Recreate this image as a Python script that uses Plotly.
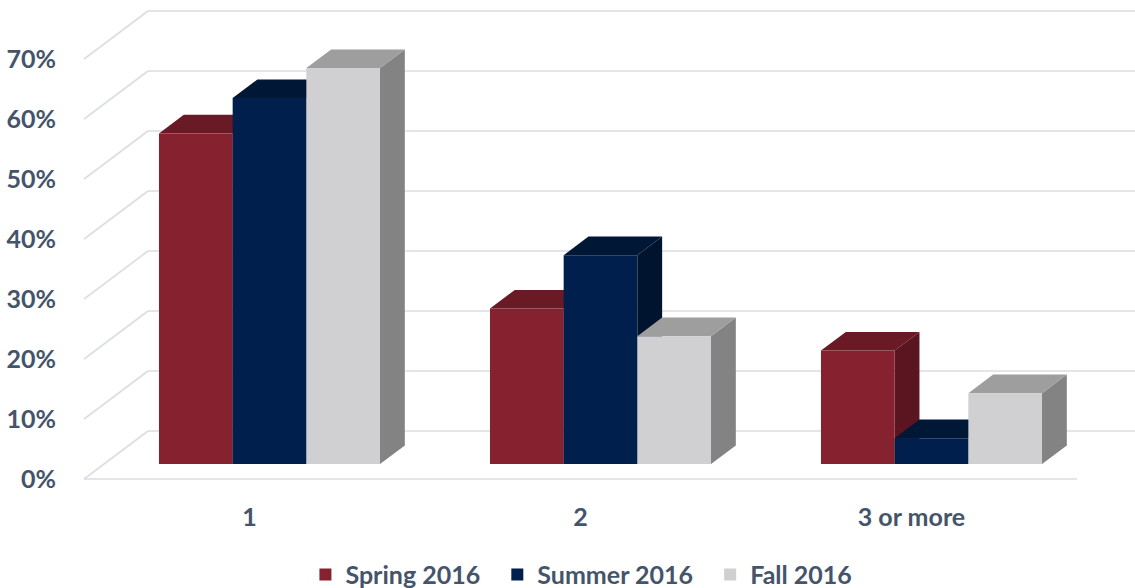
import plotly.graph_objects as go

categories = ["1", "2", "3 or more"]
series_names = ["Spring 2016", "Summer 2016", "Fall 2016"]
spring = [55.1, 25.9, 18.9]
summer = [61.0, 34.8, 4.3]
fall = [66.0, 21.3, 11.8]
y_ticks = [0, 10, 20, 30, 40, 50, 60, 70]

# front / top / side face colours per series
front_colors = ["#86222F", "#001F4C", "#D0CFD1"]
top_colors = ["#691A25", "#001736", "#9E9E9E"]
side_colors = ["#5A1520", "#00142F", "#838383"]

TEXT = "#44546A"
GRID = "#DADDE3"
FONT = "Lato"

# oblique projection: one full floor depth moves x by DX (category units) and y by DV (percent)
DX = 64 / 331
DV = 8.0
D_FRONT = 0.3125
D_BACK = 0.70
W = 0.2226  # bar width in category units


def proj(x, v, d):
    return x + DX * d, v + DV * d


def face(points):
    xs, ys = [], []
    for x, v, d in points + points[:1]:
        px, py = proj(x, v, d)
        xs.append(px)
        ys.append(py)
    return xs, ys


fig = go.Figure()

# walls / gridlines
gx, gy = [], []
for v in y_ticks:
    for a, b in [((-0.5, v, 0), (-0.5, v, 1)), ((-0.5, v, 1), (2.5, v, 1))]:
        x0, y0 = proj(*a)
        x1, y1 = proj(*b)
        gx += [x0, x1, None]
        gy += [y0, y1, None]
x0, y0 = proj(-0.5, 0, 0)
x1, y1 = proj(2.5, 0, 0)
gx += [x0, x1, None]
gy += [y0, y1, None]
fig.add_trace(go.Scatter(x=gx, y=gy, mode="lines", line=dict(color=GRID, width=1.6),
                         hoverinfo="skip", showlegend=False, zorder=0))

all_values = [spring, summer, fall]

# top and side faces
for j, vals in enumerate(all_values):
    sx, sy, tx, ty = [], [], [], []
    for i, v in enumerate(vals):
        xl = i - 1.5 * W + j * W
        xr = xl + W
        xs, ys = face([(xr, 0, D_FRONT), (xr, v, D_FRONT), (xr, v, D_BACK), (xr, 0, D_BACK)])
        sx += xs + [None]
        sy += ys + [None]
        xs, ys = face([(xl, v, D_FRONT), (xr, v, D_FRONT), (xr, v, D_BACK), (xl, v, D_BACK)])
        tx += xs + [None]
        ty += ys + [None]
    fig.add_trace(go.Scatter(x=sx, y=sy, fill="toself", fillcolor=side_colors[j], mode="lines",
                             line=dict(width=0, color=side_colors[j]), hoverinfo="skip",
                             showlegend=False, zorder=1))
    fig.add_trace(go.Scatter(x=tx, y=ty, fill="toself", fillcolor=top_colors[j], mode="lines",
                             line=dict(width=0, color=top_colors[j]), hoverinfo="skip",
                             showlegend=False, zorder=1))

# front faces as real bars
for j, vals in enumerate(all_values):
    xc = [i + (j - 1) * W + DX * D_FRONT for i in range(len(categories))]
    fig.add_trace(go.Bar(x=xc, y=vals, base=DV * D_FRONT, width=W,
                         name=series_names[j] + "\u00a0\u00a0",
                         marker=dict(color=front_colors[j], line=dict(width=0)), zorder=2))

fig.update_xaxes(range=[-0.5, (1135 - 84) / 331 - 0.5],
                 tickvals=[0, 1, 2], ticktext=categories, showgrid=False, zeroline=False,
                 showline=False, ticks="outside", ticklen=5, tickcolor="rgba(0,0,0,0)",
                 tickfont=dict(family=FONT, size=25, color=TEXT, weight="bold"))
fig.update_yaxes(range=[(479 - 490) / 6, 479 / 6], tickvals=y_ticks,
                 ticktext=[f"{v}%" for v in y_ticks], showgrid=False, zeroline=False,
                 showline=False, ticks="outside", ticklen=22, tickcolor="rgba(0,0,0,0)",
                 tickfont=dict(family=FONT, size=25, color=TEXT, weight="bold"))

fig.update_layout(
    template="none",
    width=1135,
    height=588,
    margin=dict(l=84, r=0, t=0, b=98, autoexpand=False),
    plot_bgcolor="white",
    paper_bgcolor="white",
    barmode="overlay",
    showlegend=True,
    legend=dict(orientation="h", x=0.479, xanchor="center", y=-0.173, yanchor="middle",
                font=dict(family=FONT, size=25, color=TEXT, weight="bold"),
                bgcolor="rgba(0,0,0,0)", itemclick=False),
)

fig.write_html("out.html", config={"displayModeBar": False},
               post_script="document.body.style.margin = '0';")
